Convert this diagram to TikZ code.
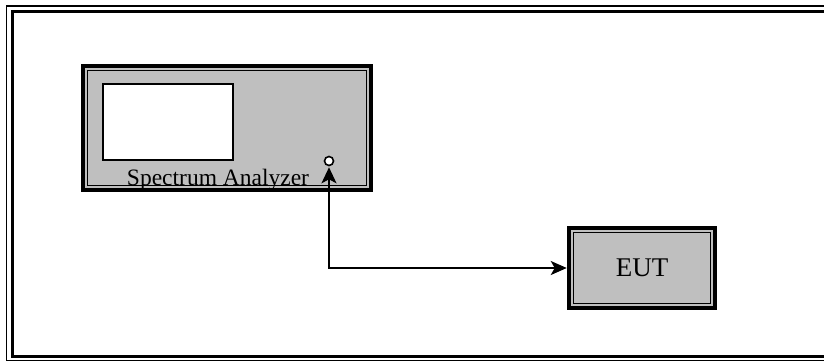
\documentclass[tikz,border=0pt]{standalone}
\usepackage{fontspec}
\setmainfont{Liberation Serif}
\usetikzlibrary{shapes,arrows.meta,positioning}
\definecolor{panel}{rgb}{.75,.75,.75}

\begin{document}
\begin{tikzpicture}[% one unit is one pixel of the reference, y runs down
			x=1pt,y=-1pt,
			every node/.style={
				align=center,
				inner sep=0pt
			},
			device/.style={% thick outer line, thin inner line, grey panel
				rectangle,draw=black,line width=4.5pt,fill=panel,
				path picture={\draw[line width=1.2pt]
					([shift={(4.8pt,-4.8pt)}]path picture bounding box.north west) rectangle
					([shift={(-4.8pt,4.8pt)}]path picture bounding box.south east);}
			},
			link/.style={draw,line width=2pt,{Stealth[length=16pt,width=14pt,inset=4pt]}-{Stealth[length=16pt,width=15pt,inset=4pt]}}
		]
		\useasboundingbox (0,0) rectangle (824,362);
		\clip (0,0) rectangle (824,362);
		% frame
		\draw[line width=1.5pt] (6.5,5.8) rectangle (840,360.5);
		\draw[line width=3pt] (12.5,11.2) rectangle (835,356.5);
		% instruments
		\node[device,minimum width=288,minimum height=124](SA) at (227,128) {};
		\node[rectangle,draw=black,line width=1.2pt,fill=white,minimum width=130,minimum height=76](Screen) at (168,122) {};
		\node[circle,draw=black,line width=1.6pt,fill=white,minimum size=9](Port) at (329,161) {};
		\node[anchor=base,font=\fontsize{23.5}{24}\selectfont](SAlabel) at (218,185) {Spectrum Analyzer};
		\node[device,minimum width=146,minimum height=80,font=\fontsize{27}{27}\selectfont](EUT) at (642,268) {EUT};
		\draw[link,shorten >=1pt] (EUT.west) -| (Port.south);
	\end{tikzpicture}
\end{document}
